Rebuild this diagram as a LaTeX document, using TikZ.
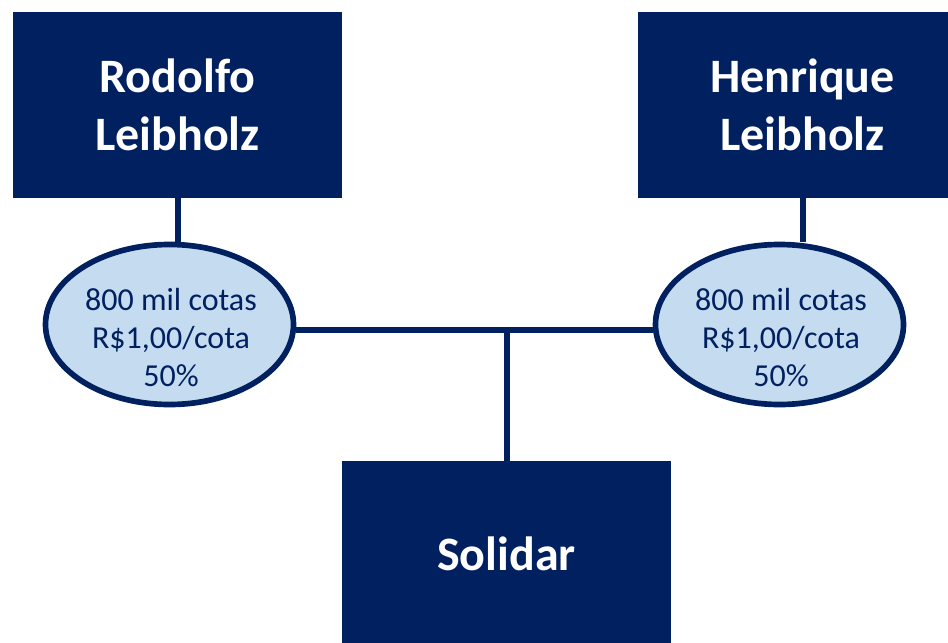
\documentclass[tikz,border=0pt]{standalone}
\usepackage{fontspec}
\setmainfont{Carlito}
\usetikzlibrary{shapes.geometric}
\definecolor{navy}{HTML}{002060}
\definecolor{lightfill}{HTML}{C5DBF0}
\tikzset{
  personbox/.style={rectangle, fill=navy, draw=none, inner sep=0pt,
    minimum width=246.75pt, minimum height=139.5pt, text=white, align=center,
    font=\fontsize{36}{43}\selectfont\bfseries},
  quotabox/.style={ellipse, fill=lightfill, draw=navy, line width=4.25pt, inner sep=0pt,
    minimum width=186pt, minimum height=120pt},
  quotatext/.style={inner sep=0pt, text=navy, align=center,
    font=\fontsize{24}{28.5}\selectfont},
  link/.style={draw=navy, line width=4.5pt}
}
\begin{document}
\begin{tikzpicture}[x=0.75pt,y=-0.75pt]
\useasboundingbox (0,0) rectangle (948,642);
\begin{scope}
\clip (0,0) rectangle (948,642);
\node[personbox] (rod) at (177.5,104.7) {Rodolfo\\Leibholz};
\node[personbox] (hen) at (802.5,104.7) {Henrique\\Leibholz};
\node[personbox] (sol) at (506.5,554) {Solidar};
\node[quotabox] (lq) at (169.5,324.5) {};
\node[quotabox] (rq) at (779.5,324.5) {};
\node[quotatext] (lqt) at (171,337.5) {800 mil cotas\\R\$1,00/cota\\50\%};
\node[quotatext] (rqt) at (781,337.5) {800 mil cotas\\R\$1,00/cota\\50\%};
\coordinate (j) at (506.5,330);
\path[link] (rod.south) -- (rod.south |- lq.north);
\path[link] (hen.south) -- (hen.south |- rq.north);
\path[link] (lq.east |- j) -- (rq.west |- j);
\path[link] (j) -- (sol.north);
\end{scope}
\end{tikzpicture}
\end{document}
